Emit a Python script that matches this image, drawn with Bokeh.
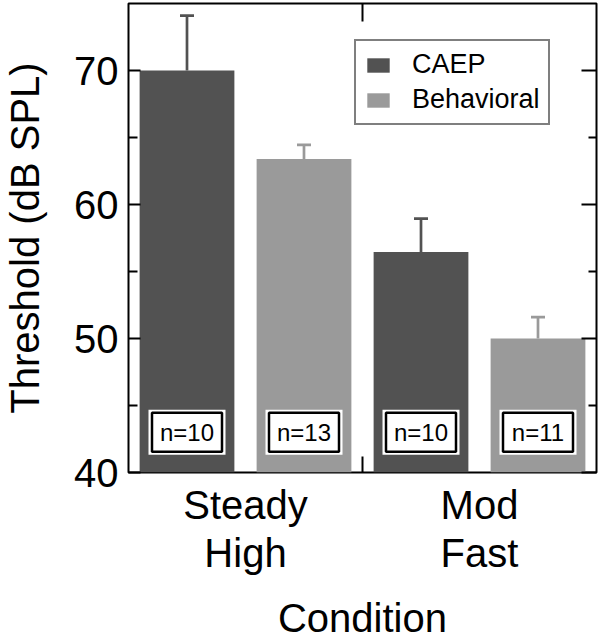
from bokeh.plotting import figure
from bokeh.models import (Range1d, FixedTicker, LinearAxis, Legend, LegendItem,
                          Whisker, TeeHead, ColumnDataSource)
from bokeh.core.properties import value
from bokeh.embed import file_html
from bokeh.resources import INLINE

# ---- data ----
categories = ["Steady\nHigh", "Mod\nFast"]
series_names = ["CAEP", "Behavioral"]
caep_mean = [70.0, 56.45]
caep_err = [4.1, 2.5]
caep_n = ["n=10", "n=10"]
behav_mean = [63.4, 50.0]
behav_err = [1.05, 1.6]
behav_n = ["n=13", "n=11"]
y_ticks = [40, 50, 60, 70]
y_minor = [45, 55, 65]

colors = ["#525252", "#9a9a9a"]
FONT = "Liberation Sans"

p = figure(width=600, height=643, output_backend="svg", toolbar_location=None,
           x_range=Range1d(0, 2 * len(categories)), y_range=Range1d(40, 75),
           min_border_left=128, min_border_right=4, min_border_top=3,
           min_border_bottom=171)
p.xgrid.visible = False
p.ygrid.visible = False
p.outline_line_color = "black"
p.outline_line_width = 2
p.background_fill_color = "white"
p.border_fill_color = "white"

group_centers = [2 * i + 1 for i in range(len(categories))]
means_all = [caep_mean, behav_mean]
errs_all = [caep_err, behav_err]
ns_all = [caep_n, behav_n]
offsets = [-0.5, 0.5]

renderers = []
label_y = 43.0
for s in range(2):
    xs = [c + offsets[s] for c in group_centers]
    src = ColumnDataSource(dict(x=xs, top=means_all[s],
                                upper=[m + e for m, e in zip(means_all[s], errs_all[s])],
                                n=ns_all[s], ly=[label_y] * len(xs)))
    r = p.vbar(x="x", top="top", bottom=40, width=0.81, source=src,
               fill_color=colors[s], line_color=None)
    renderers.append(r)
    w = Whisker(source=src, base="x", lower="top", upper="upper",
                line_color=colors[s], line_width=2.7, lower_head=None,
                upper_head=TeeHead(size=14, line_color=colors[s], line_width=2.7))
    p.add_layout(w)
    p.rect(x="x", y="ly", width=77, height=45, width_units="screen",
           height_units="screen", source=src, fill_color="white", line_color=None)
    p.rect(x="x", y="ly", width=70, height=39, width_units="screen",
           height_units="screen", source=src, fill_color="white",
           line_color="black", line_width=2.5)
    p.text(x="x", y="ly", text="n", source=src, text_align="center",
           text_baseline="middle", text_font=value(FONT),
           text_font_size="24px", text_color="black")

# ---- axes ----
yt = FixedTicker(ticks=y_ticks, minor_ticks=y_minor)
xt = FixedTicker(ticks=group_centers, minor_ticks=[2])

ya = p.yaxis[0]
ya.ticker = yt
ya.axis_line_color = None
ya.major_tick_in = 12
ya.major_tick_out = 0
ya.minor_tick_in = 9
ya.minor_tick_out = 0
ya.major_tick_line_width = 2
ya.minor_tick_line_width = 2
ya.major_label_text_font = FONT
ya.major_label_text_font_size = "40px"
ya.major_label_text_color = "black"
ya.major_label_standoff = 10
ya.axis_label = "Threshold (dB SPL)"
ya.axis_label_text_font = FONT
ya.axis_label_text_font_style = "normal"
ya.axis_label_text_font_size = "40px"
ya.axis_label_text_color = "black"
ya.axis_label_standoff = 24

xa = p.xaxis[0]
xa.ticker = xt
xa.axis_line_color = None
xa.major_tick_line_color = None
xa.minor_tick_in = 16
xa.minor_tick_out = 0
xa.minor_tick_line_width = 2
xa.major_label_overrides = {c: lab for c, lab in zip(group_centers, categories)}
xa.major_label_text_font = FONT
xa.major_label_text_font_size = "40px"
xa.major_label_text_color = "black"
xa.major_label_text_line_height = 1.1
xa.major_label_standoff = 4
xa.axis_label = "Condition"
xa.axis_label_text_font = FONT
xa.axis_label_text_font_style = "normal"
xa.axis_label_text_font_size = "40px"
xa.axis_label_text_color = "black"
xa.axis_label_standoff = 18

ra = LinearAxis(ticker=yt, axis_line_color=None, major_tick_in=15, major_tick_out=0,
                minor_tick_in=8, minor_tick_out=0, major_tick_line_width=2,
                minor_tick_line_width=2, major_label_text_font_size="1px",
                major_label_overrides={t: "" for t in y_ticks},
                major_label_standoff=0)
p.add_layout(ra, "right")
ta = LinearAxis(ticker=FixedTicker(ticks=[2], minor_ticks=[]), axis_line_color=None,
                major_tick_in=18, major_tick_out=0, major_tick_line_width=2,
                major_label_text_font_size="1px", major_label_overrides={2: ""},
                major_label_standoff=0)
p.add_layout(ta, "above")

# ---- legend ----
legend = Legend(items=[LegendItem(label=series_names[i], renderers=[renderers[i]])
                       for i in range(2)],
                location=(226, 347), glyph_width=28, glyph_height=18,
                label_text_font=FONT, label_text_font_size="27px",
                label_text_color="black",
                label_standoff=20, padding=8, spacing=4, margin=0,
                border_line_color="black", border_line_width=2,
                background_fill_color="white", background_fill_alpha=1)
p.add_layout(legend, "center")

open("out.html", "w").write(file_html(p, INLINE))
